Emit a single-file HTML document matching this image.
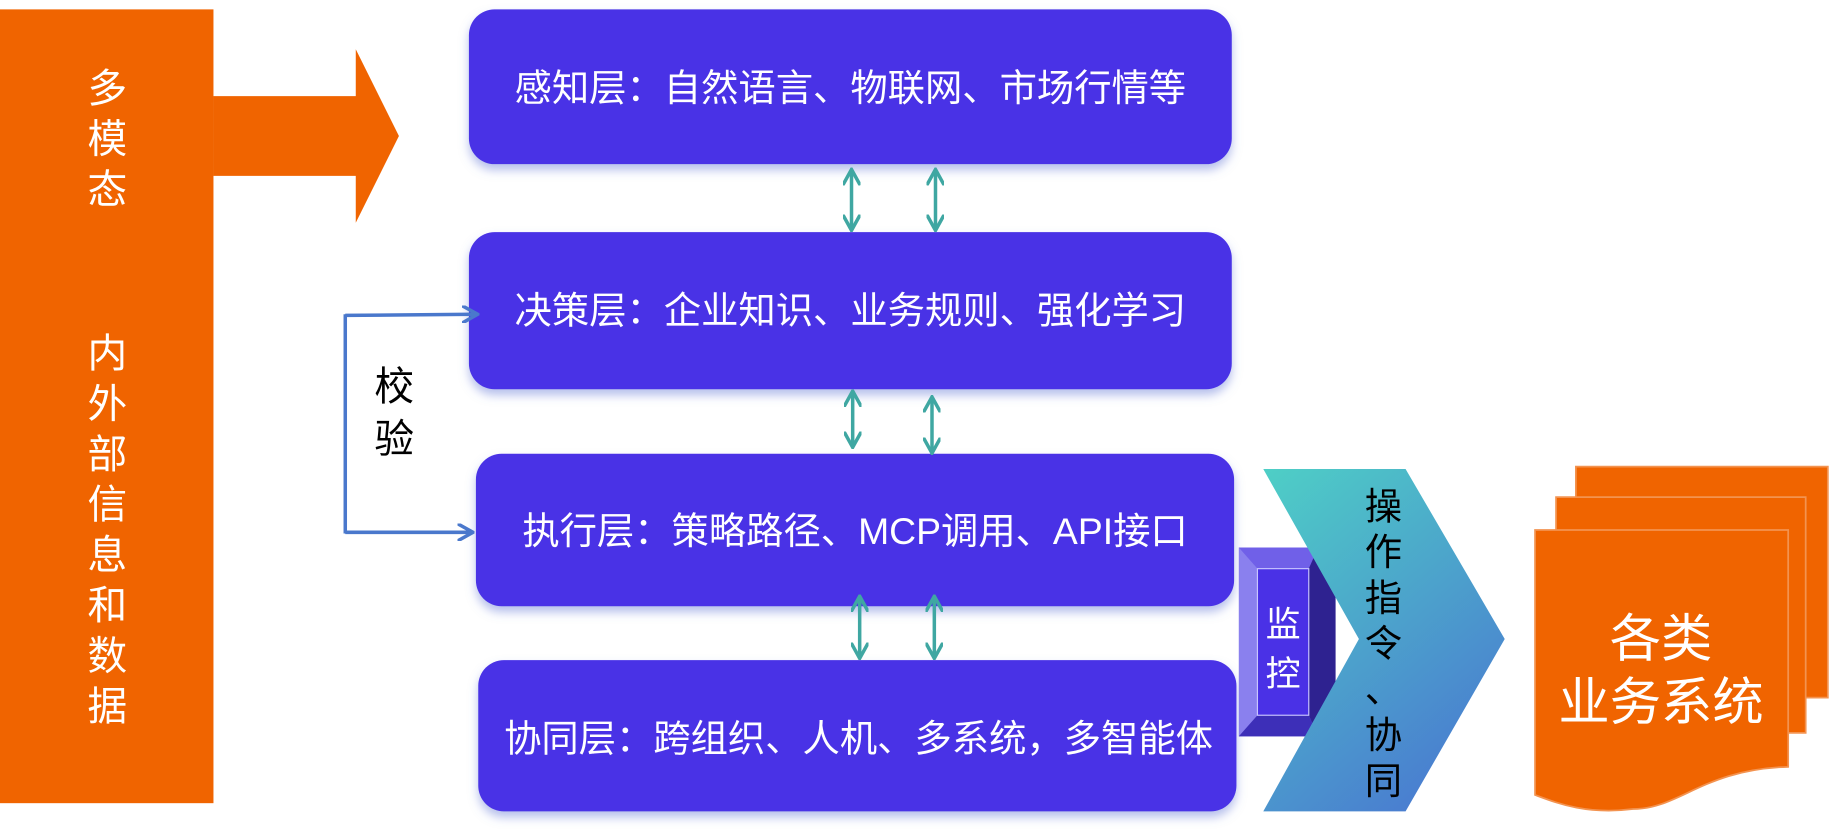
<!DOCTYPE html>
<html><head><meta charset="utf-8"><style>
html,body{margin:0;padding:0;background:#fff;width:1829px;height:836px;overflow:hidden}
svg{display:block}
text{font-family:"Liberation Sans","Noto Sans CJK SC",sans-serif}
</style></head><body>
<svg width="1829" height="836" viewBox="0 0 1568 713" preserveAspectRatio="none" xmlns="http://www.w3.org/2000/svg">
<defs>
<linearGradient id="chev" x1="0" y1="0" x2="0.6" y2="1">
<stop offset="0" stop-color="#4ECFC6"/><stop offset="1" stop-color="#4A7ED0"/>
</linearGradient>
<filter id="sh" x="-5%" y="-10%" width="110%" height="130%"><feDropShadow dx="0" dy="5" stdDeviation="4" flood-color="#6a7fd8" flood-opacity="0.5"/></filter>
<marker id="ah" viewBox="0 0 10 10" refX="8" refY="5" markerWidth="5" markerHeight="5" orient="auto-start-reverse"><path d="M0,0 L9,5 L0,10" fill="none" stroke="#3FA7A2" stroke-width="2"/></marker>
<marker id="bh" viewBox="0 0 10 10" refX="8" refY="5" markerWidth="5" markerHeight="5" orient="auto"><path d="M0,0 L9,5 L0,10" fill="none" stroke="#4A78CC" stroke-width="2"/></marker>
</defs>
<rect x="0" y="8" width="183" height="677" fill="#F06400"/>
<polygon points="183,82 305,82 305,42 342,116 305,190 305,150 183,150" fill="#F06400"/>
<g fill="#fff" font-size="34" text-anchor="middle">
<text x="92" y="87">多</text><text x="92" y="130">模</text><text x="92" y="173">态</text>
<text x="92" y="313">内</text><text x="92" y="356">外</text><text x="92" y="399">部</text><text x="92" y="442">信</text><text x="92" y="485">息</text><text x="92" y="528">和</text><text x="92" y="571">数</text><text x="92" y="614">据</text>
</g>
<g fill="#4A31E6" filter="url(#sh)">
<rect x="402" y="8" width="654" height="132" rx="22"/>
<rect x="402" y="198" width="654" height="134" rx="22"/>
<rect x="408" y="387" width="650" height="130" rx="22"/>
<rect x="410" y="563" width="650" height="129" rx="22"/>
</g>
<g fill="#fff" font-size="32" text-anchor="middle">
<text x="729" y="86">感知层：自然语言、物联网、市场行情等</text>
<text x="729" y="276">决策层：企业知识、业务规则、强化学习</text>
<text x="733" y="464">执行层：策略路径、MCP调用、API接口</text>
<text x="736" y="641">协同层：跨组织、人机、多系统，多智能体</text>
</g>
<g stroke="#3FA7A2" stroke-width="3" marker-start="url(#ah)" marker-end="url(#ah)">
<line x1="730" y1="146" x2="730" y2="195"/><line x1="802" y1="146" x2="802" y2="195"/>
<line x1="731" y1="335" x2="731" y2="380"/><line x1="799" y1="340" x2="799" y2="385"/>
<line x1="737" y1="510" x2="737" y2="560"/><line x1="801" y1="510" x2="801" y2="560"/>
</g>
<g stroke="#4A78CC" stroke-width="3" fill="none">
<line x1="296" y1="268" x2="296" y2="455"/>
<line x1="296" y1="269" x2="408" y2="268" marker-end="url(#bh)"/>
<line x1="296" y1="454" x2="404" y2="454" marker-end="url(#bh)"/>
</g>
<g fill="#000" font-size="34" text-anchor="middle"><text x="338" y="341">校</text><text x="338" y="386">验</text></g>
<polygon points="1062,467 1130,467 1130,628 1062,628" fill="#8A80EE"/>
<polygon points="1062,467 1130,467 1122,485 1078,485" fill="#7060E8"/>
<polygon points="1130,467 1145,467 1145,628 1130,628 1122,610 1122,485" fill="#2E2290"/>
<polygon points="1062,628 1130,628 1122,610 1078,610" fill="#3D2FB8"/>
<rect x="1078" y="485" width="44" height="125" fill="#4A31E6" stroke="#c8c4ff" stroke-width="1"/>
<g fill="#fff" font-size="30" text-anchor="middle"><text x="1100" y="543">监</text><text x="1100" y="585">控</text></g>
<polygon points="1083,400 1205,400 1290,545 1205,692 1083,692 1165,545" fill="url(#chev)"/>
<g fill="#000" font-size="32" text-anchor="middle">
<text x="1186" y="443">操</text><text x="1186" y="482">作</text><text x="1186" y="521">指</text><text x="1186" y="560">令</text><text x="1186" y="599">、</text><text x="1186" y="638">协</text><text x="1186" y="677">同</text>
</g>
<g fill="#F06400" stroke="#F39350" stroke-width="1.5">
<path d="M1351,398 H1567 V595 L1351,595 Z"/>
<path d="M1334,424 H1548 V625 L1334,625 Z"/>
<path d="M1316,452 H1533 V654 C1460,656 1440,690 1400,690 C1360,695 1335,685 1316,678 Z"/>
</g>
<g fill="#fff" font-size="44" text-anchor="middle"><text x="1424" y="560">各类</text><text x="1424" y="614">业务系统</text></g>
</svg>
</body></html>
